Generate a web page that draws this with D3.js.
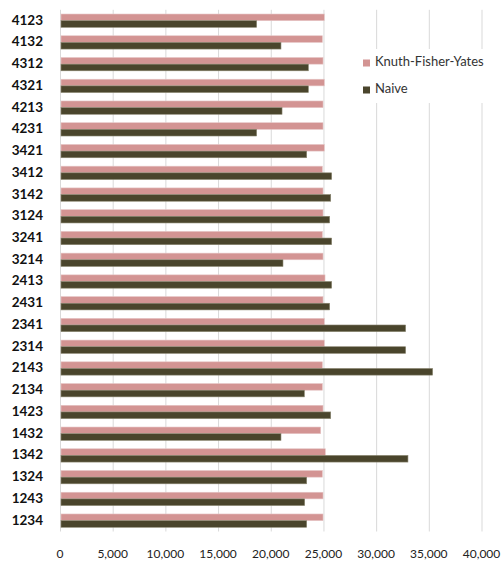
<!DOCTYPE html>
<html><head><meta charset="utf-8">
<script src="https://cdn.jsdelivr.net/npm/d3@7"></script>
<style>body{margin:0;background:#fff;} svg{display:block;}</style>
</head><body>
<svg id="c" width="501" height="564"></svg>
<script>
const categories = ["4123","4132","4312","4321","4213","4231","3421","3412","3142","3124","3241","3214","2413","2431","2341","2314","2143","2134","1423","1432","1342","1324","1243","1234"];
const seriesNames = ["Knuth-Fisher-Yates","Naive"];
const kfy = [25080,24900,24960,25080,24960,24960,25080,24900,24960,24960,24900,24960,25150,24960,25080,25080,24900,24900,24960,24740,25180,24900,24960,24960];
const naive = [18660,20970,23570,23570,21070,18660,23410,25780,25690,25590,25780,21160,25780,25590,32800,32800,35360,23190,25690,20970,33020,23410,23220,23410];
const xTicks = [0,5000,10000,15000,20000,25000,30000,35000,40000];
const colors = ["#d39493","#4a452c"];
const FONT = "Lato, 'Open Sans', sans-serif";

const svg = d3.select("#c");
const x = d3.scaleLinear().domain([0,40000]).range([60,481.5]);
const y = d3.scaleBand().domain(categories).range([9.8,531.5]).paddingInner(0.388).paddingOuter(0.194);
const sub = d3.scaleBand().domain(seriesNames).range([0,y.bandwidth()]);

svg.append("g").selectAll("line").data(xTicks.slice(1)).join("line")
  .attr("x1",d=>x(d)+0.5).attr("x2",d=>x(d)+0.5)
  .attr("y1",9.8).attr("y2",531.5)
  .attr("stroke","#d9d9d9").attr("stroke-width",1);
svg.append("line").attr("x1",x(0)+0.5).attr("x2",x(0)+0.5).attr("y1",9.8).attr("y2",531.5)
  .attr("stroke","#d9d9d9");

const data = categories.map((c,i)=>({c, vals:[kfy[i],naive[i]]}));
const g = svg.append("g");
data.forEach(d=>{
  d.vals.forEach((v,j)=>{
    g.append("rect")
      .attr("x",x(0)+1).attr("y",y(d.c)+sub(seriesNames[j]))
      .attr("width",x(v)-x(0)-1).attr("height",sub.bandwidth())
      .attr("fill",colors[j])
      .attr("stroke", j===0 ? "#e6c6c6" : "#8a8670").attr("stroke-width",0.6);
  });
});

svg.append("g").selectAll("text").data(categories).join("text")
  .attr("x",43).attr("y",d=>y(d)+y.bandwidth()/2+0.5)
  .attr("text-anchor","end").attr("dominant-baseline","middle")
  .attr("font-family",FONT).attr("font-weight","bold")
  .attr("font-size",13.5).attr("fill","#111").text(d=>d);

const fmt = d3.format(",");
svg.append("g").selectAll("text").data(xTicks).join("text")
  .attr("x",d=>x(d)).attr("y",555)
  .attr("text-anchor","middle").attr("dominant-baseline","middle")
  .attr("font-family",FONT)
  .attr("font-size",12).attr("fill","#222").text(d=>fmt(d));

const lg = svg.append("g");
lg.append("rect").attr("x",355).attr("y",49).attr("width",138).attr("height",54).attr("fill","#fff");
seriesNames.forEach((s,i)=>{
  const cy = 63 + i*27;
  lg.append("rect").attr("x",363).attr("y",cy-3.5).attr("width",7).attr("height",7).attr("fill",colors[i]);
  lg.append("text").attr("x",375).attr("y",cy).attr("dominant-baseline","middle")
    .attr("font-family",FONT)
    .attr("font-size",13).attr("fill","#333").text(s);
});
</script>
</body></html>
